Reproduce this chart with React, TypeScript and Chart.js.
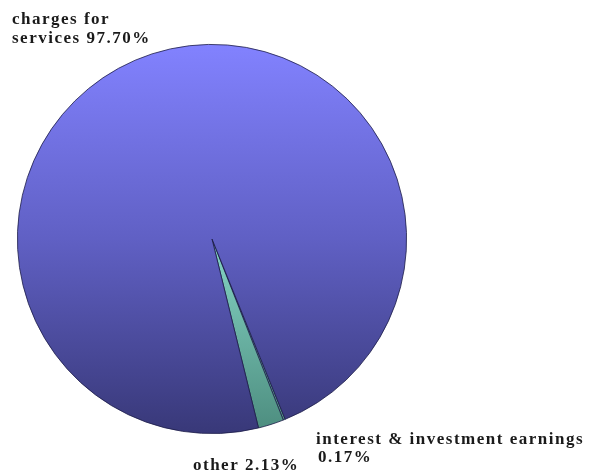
import React, { useEffect, useRef } from "react";
import { Chart, registerables } from "chart.js";

Chart.register(...registerables);

const categories = ["interest & investment earnings", "other", "charges for services"];
const shares = [0.17, 2.13, 97.7];
const labelLines = [
  ["interest & investment earnings", "0.17%"],
  ["other 2.13%"],
  ["charges for", "services 97.70%"],
];

export default function App() {
  const ref = useRef<HTMLCanvasElement | null>(null);

  useEffect(() => {
    if (!ref.current) return;
    const labelPlugin = {
      id: "sliceLabels",
      afterDraw(chart: any) {
        const ctx = chart.ctx;
        ctx.save();
        ctx.fillStyle = "#1a1a1a";
        ctx.font = "bold 17px 'Liberation Serif', 'DejaVu Serif', serif";
        try { (ctx as any).letterSpacing = "1.5px"; } catch (e) {}
        ctx.textBaseline = "alphabetic";
        ctx.textAlign = "left";
        // charges for services
        ctx.fillText(labelLines[2][0], 12, 24);
        ctx.fillText(labelLines[2][1], 12, 43);
        // interest
        ctx.fillText(labelLines[0][0], 316, 444);
        ctx.fillText(labelLines[0][1], 318, 462);
        // other
        ctx.fillText(labelLines[1][0], 193, 470);
        ctx.restore();
      },
    };

    const chart = new Chart(ref.current, {
      type: "pie",
      data: {
        labels: categories,
        datasets: [
          {
            data: shares,
            backgroundColor: (c: any) => {
              const ch = c.chart;
              const area = ch.chartArea;
              if (!area) return "#7070e0";
              const g = ch.ctx.createLinearGradient(0, area.top, 0, area.bottom);
              if (c.dataIndex === 2) {
                g.addColorStop(0, "#8282ff");
                g.addColorStop(0.5, "#6060c4");
                g.addColorStop(1, "#383878");
              } else {
                g.addColorStop(0, "#a6f4e6");
                g.addColorStop(0.5, "#86d6c6");
                g.addColorStop(1, "#4c8c7e");
              }
              return g;
            },
            borderColor: "#1c1c48",
            borderWidth: 0.8,
          },
        ],
      },
      options: {
        responsive: false,
        animation: false,
        rotation: 157.9,
        layout: { padding: { left: 17, right: 194, top: 44, bottom: 41 } },
        plugins: {
          legend: { display: false },
          tooltip: { enabled: false },
        },
      },
      plugins: [labelPlugin],
    });
    return () => chart.destroy();
  }, []);

  return (
    <div style={{ position: "fixed", left: 0, top: 0, width: 601, height: 475, background: "#fff" }}>
      <canvas ref={ref} width={601} height={475} />
    </div>
  );
}
